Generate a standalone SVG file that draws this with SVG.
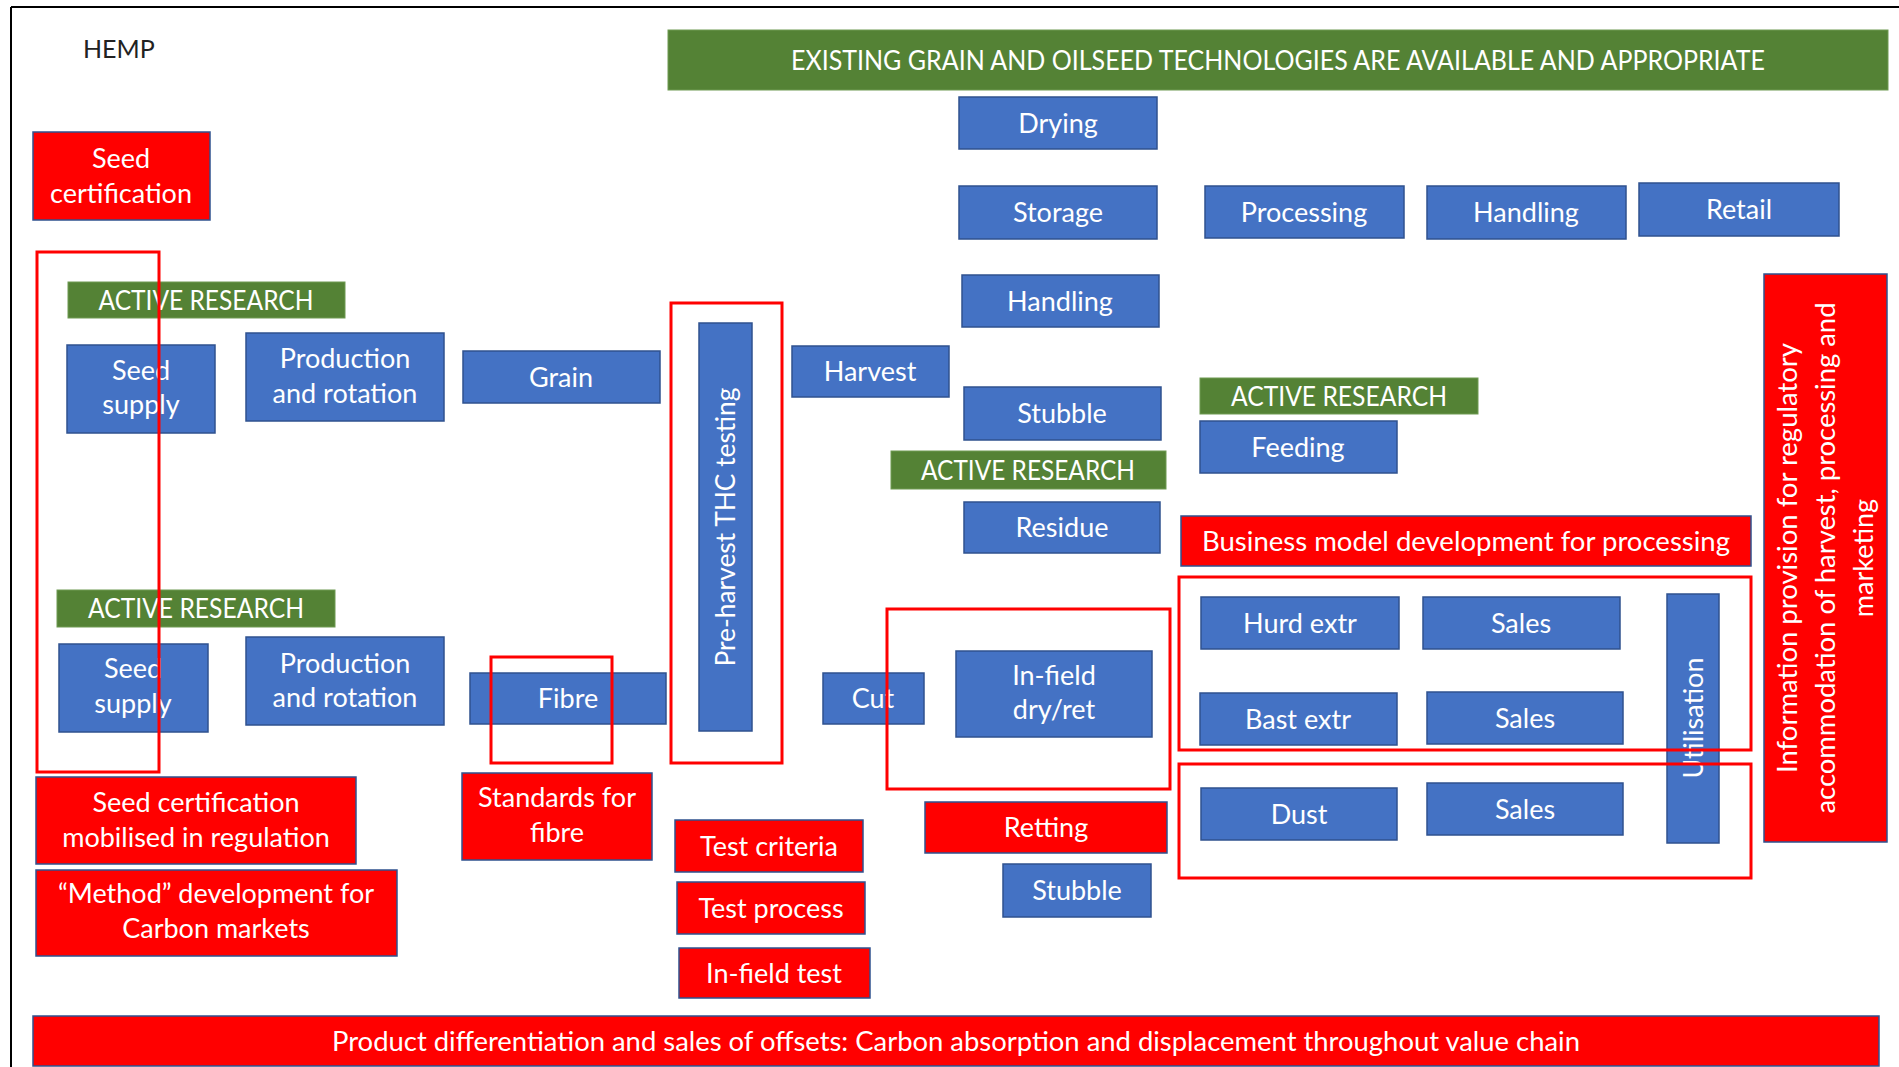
<svg xmlns="http://www.w3.org/2000/svg" width="1899" height="1067" viewBox="0 0 1899 1067">
<style>
text{font-family:Lato,"Liberation Sans",sans-serif;font-size:27px;fill:#fff;text-anchor:middle}
.b{fill:#4472C4;stroke:#2F528F;stroke-width:1.5}
.r{fill:#FF0000;stroke:#2F528F;stroke-width:1.5}
.g{fill:#548235;stroke:#6E9A52;stroke-width:1}
.f{fill:none;stroke:#FF0000;stroke-width:3}
.t{fill:#222;text-anchor:start;font-size:25px}
</style>
<g id="frame-border" stroke="#000" stroke-width="2" fill="none">
<line x1="11" y1="7" x2="1899" y2="7"/>
<line x1="11" y1="7" x2="11" y2="1067"/>
</g>
<g id="title"><text class="t" x="83" y="58">HEMP</text></g>
<g id="existing"><rect class="g" x="668" y="30" width="1220" height="60"/><text x="1278" y="70" textLength="974" lengthAdjust="spacingAndGlyphs">EXISTING GRAIN AND OILSEED TECHNOLOGIES ARE AVAILABLE AND APPROPRIATE</text></g>
<g id="seed-cert"><rect class="r" x="33" y="132" width="177" height="88"/><text x="121" y="168">Seed</text><text x="121" y="203">certification</text></g>
<g id="drying"><rect class="b" x="959" y="97" width="198" height="52"/><text x="1058" y="133">Drying</text></g>
<g id="storage"><rect class="b" x="959" y="186" width="198" height="53"/><text x="1058" y="222">Storage</text></g>
<g id="handling-1"><rect class="b" x="962" y="275" width="197" height="52"/><text x="1060" y="311">Handling</text></g>
<g id="processing"><rect class="b" x="1205" y="186" width="199" height="52"/><text x="1304" y="222">Processing</text></g>
<g id="handling-2"><rect class="b" x="1427" y="186" width="199" height="53"/><text x="1526" y="222">Handling</text></g>
<g id="retail"><rect class="b" x="1639" y="183" width="200" height="53"/><text x="1739" y="219">Retail</text></g>
<g id="info"><rect class="r" x="1764" y="274" width="123" height="568"/>
<text transform="translate(1797,558) rotate(-90)" textLength="430" lengthAdjust="spacingAndGlyphs">Information provision for regulatory</text>
<text transform="translate(1835,558) rotate(-90)" textLength="511" lengthAdjust="spacingAndGlyphs">accommodation of harvest, processing and</text>
<text transform="translate(1873,558) rotate(-90)">marketing</text></g>
<g id="active-1"><rect class="g" x="68" y="282" width="277" height="36"/><text x="206" y="310" textLength="215" lengthAdjust="spacingAndGlyphs">ACTIVE RESEARCH</text></g>
<g id="seed-supply-1"><rect class="b" x="67" y="345" width="148" height="88"/><text x="141" y="380">Seed</text><text x="141" y="414">supply</text></g>
<g id="production-1"><rect class="b" x="246" y="333" width="198" height="88"/><text x="345" y="368">Production</text><text x="345" y="403">and rotation</text></g>
<g id="grain"><rect class="b" x="463" y="351" width="197" height="52"/><text x="561" y="387">Grain</text></g>
<g id="pre-harvest"><rect class="b" x="699" y="323" width="53" height="408"/><text transform="translate(735,527) rotate(-90)" textLength="279" lengthAdjust="spacingAndGlyphs">Pre-harvest THC testing</text></g>
<g id="harvest"><rect class="b" x="792" y="346" width="157" height="51"/><text x="870" y="381">Harvest</text></g>
<g id="stubble-1"><rect class="b" x="964" y="387" width="197" height="53"/><text x="1062" y="423">Stubble</text></g>
<g id="active-2"><rect class="g" x="1200" y="378" width="278" height="36"/><text x="1339" y="406" textLength="216" lengthAdjust="spacingAndGlyphs">ACTIVE RESEARCH</text></g>
<g id="feeding"><rect class="b" x="1200" y="421" width="197" height="52"/><text x="1298" y="457">Feeding</text></g>
<g id="active-3"><rect class="g" x="891" y="451" width="275" height="38"/><text x="1028" y="480" textLength="214" lengthAdjust="spacingAndGlyphs">ACTIVE RESEARCH</text></g>
<g id="residue"><rect class="b" x="964" y="502" width="196" height="51"/><text x="1062" y="537">Residue</text></g>
<g id="business"><rect class="r" x="1181" y="516" width="570" height="50"/><text x="1466" y="551" textLength="528" lengthAdjust="spacingAndGlyphs">Business model development for processing</text></g>
<g id="hurd"><rect class="b" x="1201" y="597" width="198" height="52"/><text x="1300" y="633">Hurd extr</text></g>
<g id="sales-1"><rect class="b" x="1423" y="597" width="197" height="52"/><text x="1521" y="633">Sales</text></g>
<g id="bast"><rect class="b" x="1200" y="693" width="197" height="52"/><text x="1298" y="729">Bast extr</text></g>
<g id="sales-2"><rect class="b" x="1427" y="692" width="196" height="52"/><text x="1525" y="728">Sales</text></g>
<g id="dust"><rect class="b" x="1201" y="788" width="196" height="52"/><text x="1299" y="824">Dust</text></g>
<g id="sales-3"><rect class="b" x="1427" y="783" width="196" height="52"/><text x="1525" y="819">Sales</text></g>
<g id="utilisation"><rect class="b" x="1667" y="594" width="52" height="249"/><text transform="translate(1703,718) rotate(-90)">Utilisation</text></g>
<g id="active-4"><rect class="g" x="57" y="590" width="278" height="37"/><text x="196" y="618" textLength="216" lengthAdjust="spacingAndGlyphs">ACTIVE RESEARCH</text></g>
<g id="seed-supply-2"><rect class="b" x="59" y="644" width="149" height="88"/><text x="133" y="678">Seed</text><text x="133" y="713">supply</text></g>
<g id="production-2"><rect class="b" x="246" y="637" width="198" height="88"/><text x="345" y="673">Production</text><text x="345" y="707">and rotation</text></g>
<g id="fibre"><rect class="b" x="470" y="673" width="196" height="51"/><text x="568" y="708">Fibre</text></g>
<g id="cut"><rect class="b" x="823" y="673" width="101" height="51"/><text x="873" y="708">Cut</text></g>
<g id="infield-dry"><rect class="b" x="956" y="651" width="196" height="86"/><text x="1054" y="685">In-field</text><text x="1054" y="719">dry/ret</text></g>
<g id="seed-cert-reg"><rect class="r" x="36" y="777" width="320" height="87"/><text x="196" y="812">Seed certification</text><text x="196" y="847">mobilised in regulation</text></g>
<g id="standards"><rect class="r" x="462" y="773" width="190" height="87"/><text x="557" y="807">Standards for</text><text x="557" y="842">fibre</text></g>
<g id="retting"><rect class="r" x="925" y="802" width="242" height="51"/><text x="1046" y="837">Retting</text></g>
<g id="test-criteria"><rect class="r" x="675" y="820" width="188" height="52"/><text x="769" y="856">Test criteria</text></g>
<g id="stubble-2"><rect class="b" x="1003" y="864" width="148" height="53"/><text x="1077" y="900">Stubble</text></g>
<g id="method"><rect class="r" x="36" y="870" width="361" height="86"/><text x="216" y="903">“Method” development for</text><text x="216" y="938">Carbon markets</text></g>
<g id="test-process"><rect class="r" x="677" y="882" width="188" height="52"/><text x="771" y="918">Test process</text></g>
<g id="infield-test"><rect class="r" x="679" y="948" width="191" height="50"/><text x="774" y="983">In-field test</text></g>
<g id="product-diff"><rect class="r" x="33" y="1016" width="1846" height="50"/><text x="956" y="1051" textLength="1248" lengthAdjust="spacingAndGlyphs">Product differentiation and sales of offsets: Carbon absorption and displacement throughout value chain</text></g>
<g id="highlight-frames">
<rect class="f" x="37" y="252" width="122" height="520"/>
<rect class="f" x="671" y="303" width="111" height="460"/>
<rect class="f" x="491" y="657" width="121" height="106"/>
<rect class="f" x="887" y="609" width="283" height="180"/>
<rect class="f" x="1179" y="577" width="572" height="173"/>
<rect class="f" x="1179" y="764" width="572" height="114"/>
</g>
</svg>
